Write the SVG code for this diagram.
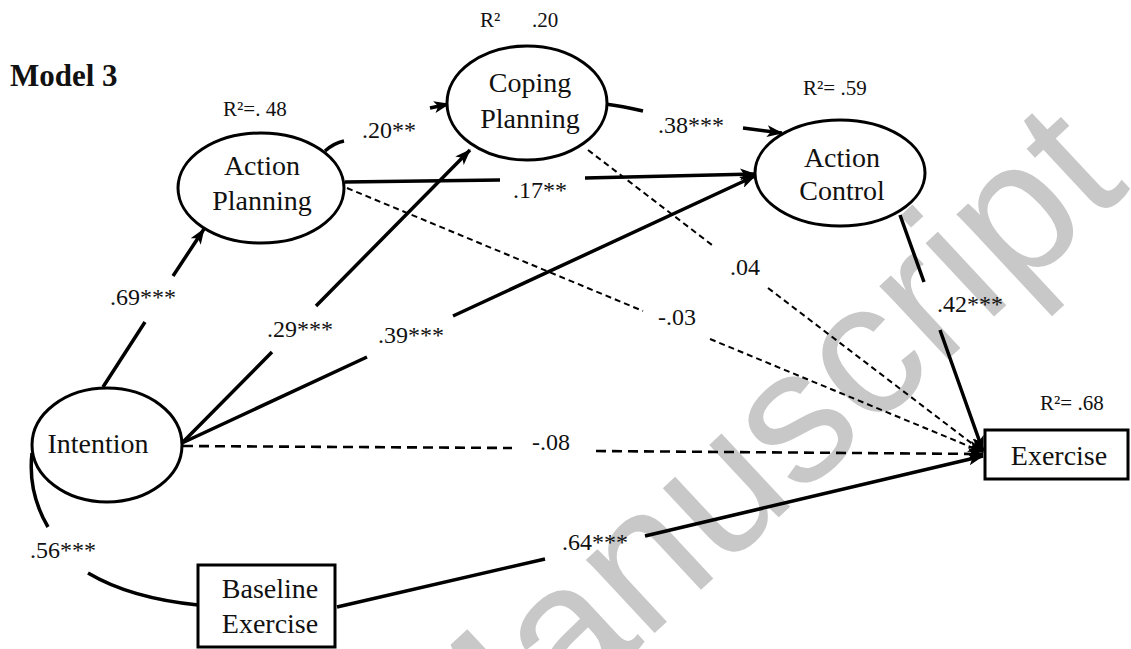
<svg xmlns="http://www.w3.org/2000/svg" width="1131" height="649" viewBox="0 0 1131 649">
<style>
.node{fill:#fff;stroke:#000;stroke-width:3}
.nt{font-family:"Liberation Serif","Times New Roman",serif;font-size:28px;fill:#111;text-anchor:middle}
.lb{font-family:"Liberation Serif","Times New Roman",serif;font-size:24px;fill:#111}
.r2{font-family:"Liberation Serif","Times New Roman",serif;font-size:21px;fill:#111}
.solid{fill:none;stroke:#000;stroke-width:3.5}
.dash{fill:none;stroke:#000;stroke-width:2;stroke-dasharray:6 4}
.dash2{fill:none;stroke:#000;stroke-width:2.6;stroke-dasharray:10 6}
.wm{font-family:"Liberation Sans",Arial,sans-serif;font-size:190px;fill:#c8c8c8}
</style>
<defs>
<marker id="arr" markerWidth="16" markerHeight="12" refX="15" refY="6" orient="auto" markerUnits="userSpaceOnUse">
<path d="M0,0 L16,6 L0,12 L4,6 z" fill="#000"/>
</marker>
</defs>
<rect width="1131" height="649" fill="#fff"/>
<text class="wm" x="452" y="822" transform="rotate(-43 452 822)">Manuscript</text>
<text x="10" y="86" font-family="Liberation Serif,Times New Roman,serif" font-size="31" font-weight="bold" fill="#111">Model 3</text>
<g id="connectors">
<path class="solid" d="M103,387 L145,322 M173,276 L204,229" marker-end="url(#arr)"/>
<path class="solid" d="M182,443 L272,352 M316,306 L470,150" marker-end="url(#arr)"/>
<path class="solid" d="M182,443 L367,357 M453,316 L755,176" marker-end="url(#arr)"/>
<path class="dash2" d="M183,446 L512,448 M596,451 L983,454" marker-end="url(#arr)"/>
<path class="solid" d="M337,607 L545,559 M645,536 L983,456" marker-end="url(#arr)"/>
<path class="solid" d="M325,151 Q334,143 344,141 M430,108 L449,104" marker-end="url(#arr)"/>
<path class="solid" d="M605,104 Q622,106 643,111 M743,128 L782,133" marker-end="url(#arr)"/>
<path class="solid" d="M345,182 L500,180 M585,178 L755,174" marker-end="url(#arr)"/>
<path class="dash" d="M347,188 L643,311 M710,339 L983,452" marker-end="url(#arr)"/>
<path class="dash" d="M588,150 L712,245 M768,288 L983,452" marker-end="url(#arr)"/>
<path class="solid" d="M900,215 L924,282 M940,330 L983,451" marker-end="url(#arr)"/>
<path class="solid" d="M32,453 C29,480 35,505 48,527 M88,573 Q130,598 198,605"/>
</g>
<g id="labels">
<text class="lb" x="362" y="138">.20**</text>
<text class="lb" x="658" y="133">.38***</text>
<text class="lb" x="513" y="198">.17**</text>
<text class="lb" x="730" y="275">.04</text>
<text class="lb" x="937" y="312">.42***</text>
<text class="lb" x="658" y="325">-.03</text>
<text class="lb" x="378" y="343">.39***</text>
<text class="lb" x="267" y="337">.29***</text>
<text class="lb" x="110" y="305">.69***</text>
<text class="lb" x="532" y="450">-.08</text>
<text class="lb" x="562" y="550">.64***</text>
<text class="lb" x="30" y="558">.56***</text>
<text class="r2" x="223" y="116">R²=. 48</text>
<text class="r2" x="480" y="27">R²<tspan x="532">.20</tspan></text>
<text class="r2" x="803" y="95">R²= .59</text>
<text class="r2" x="1040" y="410">R²= .68</text>
</g>
<g id="action-planning">
<ellipse class="node" cx="261" cy="188" rx="83" ry="55"/>
<text class="nt" x="262" y="175">Action</text>
<text class="nt" x="262" y="210">Planning</text>
</g>
<g id="coping-planning">
<ellipse class="node" cx="527" cy="103" rx="80" ry="57"/>
<text class="nt" x="530" y="92">Coping</text>
<text class="nt" x="530" y="128">Planning</text>
</g>
<g id="action-control">
<ellipse class="node" cx="840" cy="173" rx="85" ry="53"/>
<text class="nt" x="842" y="167">Action</text>
<text class="nt" x="842" y="200">Control</text>
</g>
<g id="intention">
<ellipse class="node" cx="107" cy="445" rx="75" ry="57"/>
<text class="nt" x="98" y="453">Intention</text>
</g>
<g id="baseline-exercise">
<rect class="node" x="198" y="565" width="137" height="82"/>
<text class="nt" x="270" y="598">Baseline</text>
<text class="nt" x="270" y="633">Exercise</text>
</g>
<g id="exercise">
<rect class="node" x="985" y="430" width="143" height="49"/>
<text class="nt" x="1059" y="465">Exercise</text>
</g>
</svg>
